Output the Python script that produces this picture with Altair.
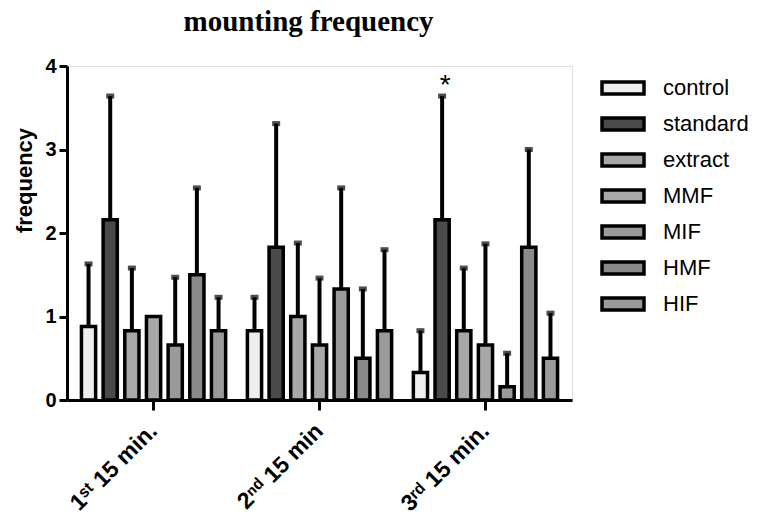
import altair as alt
import pandas as pd

groups = ["1ˢᵗ 15 min.", "2ⁿᵈ 15 min", "3ʳᵈ 15 min."]
treatments = ["control", "standard", "extract", "MMF", "MIF", "HMF", "HIF"]
means_g1 = [0.88, 2.16, 0.83, 1.00, 0.66, 1.50, 0.83]
means_g2 = [0.83, 1.83, 1.00, 0.66, 1.33, 0.50, 0.83]
means_g3 = [0.33, 2.16, 0.83, 0.66, 0.16, 1.83, 0.50]
upper_g1 = [1.63, 3.64, 1.58, 1.00, 1.47, 2.54, 1.23]
upper_g2 = [1.23, 3.31, 1.88, 1.46, 2.54, 1.33, 1.80]
upper_g3 = [0.83, 3.64, 1.58, 1.87, 0.56, 3.00, 1.04]
fills = ["#eeeeee", "#4a4a4a", "#a8a8a8", "#a8a8a8", "#9a9a9a", "#8a8a8a", "#9a9a9a"]
star_group = groups[2]
star_treat = "standard"
star_value = 3.64

rows = []
for g, ms, us in zip(groups, [means_g1, means_g2, means_g3], [upper_g1, upper_g2, upper_g3]):
    for t, m, u in zip(treatments, ms, us):
        rows.append({"group": g, "treat": t, "mean": m, "upper": u})
df = pd.DataFrame(rows)
star_df = pd.DataFrame([{"group": star_group, "treat": star_treat, "upper": star_value, "label": "*"}])

FONT = "Liberation Sans"

x_enc = alt.X("group:N", sort=groups,
              scale=alt.Scale(paddingInner=0.131, paddingOuter=0.087),
              axis=alt.Axis(title=None, labelAngle=-45, labelAlign="right", labelBaseline="middle",
                            labelFont=FONT, labelFontSize=23, labelFontWeight="bold", labelColor="black",
                            labelPadding=17, tickSize=10, tickWidth=3, tickColor="black",
                            domainWidth=3, domainColor="black"))
xo_enc = alt.XOffset("treat:N", sort=treatments, scale=alt.Scale(paddingInner=0.345, paddingOuter=0))
y_scale = alt.Scale(domain=[0, 4], nice=False)

base = alt.Chart(df)

bars = base.mark_bar(stroke="black", strokeWidth=3.5).encode(
    x=x_enc,
    xOffset=xo_enc,
    y=alt.Y("mean:Q", scale=y_scale,
            axis=alt.Axis(title="frequency", values=[0, 1, 2, 3, 4], format="d", grid=False,
                          labelFont=FONT, labelFontSize=20, labelFontWeight="bold", labelColor="black",
                          labelPadding=3, tickSize=8, tickWidth=3, tickColor="black",
                          domainWidth=3, domainColor="black",
                          titleFont=FONT, titleFontSize=22, titleFontWeight="bold", titleColor="black",
                          titleX=-31, titleY=114, titleAngle=-90, titleAlign="center",
                          titleBaseline="bottom")),
    fill=alt.Fill("treat:N", sort=treatments,
                  scale=alt.Scale(domain=treatments, range=fills),
                  legend=alt.Legend(title=None, orient="none", legendX=533, legendY=7,
                                    symbolType="M-1,-0.28H1V0.28H-1Z", symbolSize=1764,
                                    symbolStrokeColor="black", symbolStrokeWidth=3.5,
                                    symbolOpacity=1,
                                    labelFont=FONT, labelFontSize=22, labelColor="black",
                                    labelOffset=17, clipHeight=30, rowPadding=6)),
)

err = base.transform_filter("datum.upper > datum.mean")

rules = err.mark_rule(color="black", strokeWidth=4).encode(
    x=alt.X("group:N", sort=groups),
    xOffset=alt.XOffset("treat:N", sort=treatments),
    y=alt.Y("mean:Q", scale=y_scale),
    y2="upper:Q",
)

caps = err.mark_tick(color="black", thickness=5, size=8, orient="horizontal").encode(
    x=alt.X("group:N", sort=groups),
    xOffset=alt.XOffset("treat:N", sort=treatments),
    y=alt.Y("upper:Q", scale=y_scale),
)

star = alt.Chart(star_df).mark_text(font=FONT, fontSize=28, color="black", baseline="alphabetic",
                                    dy=-2, dx=3).encode(
    x=alt.X("group:N", sort=groups),
    xOffset=alt.XOffset("treat:N", sort=treatments),
    y=alt.Y("upper:Q", scale=y_scale),
    text="label:N",
)

chart = alt.layer(bars, rules, caps, star).properties(
    width=505,
    height=334,
    autosize=alt.AutoSizeParams(type="none"),
    padding={"left": 67, "top": 66, "right": 188, "bottom": 117},
    title=alt.TitleParams("mounting frequency", font="Liberation Serif", fontSize=29,
                          fontWeight="bold", color="black", anchor="middle", offset=19, dx=-11),
).configure_view(stroke=None).configure(background="white")

chart.save("out.html", embed_options={"renderer": "svg", "actions": False})
